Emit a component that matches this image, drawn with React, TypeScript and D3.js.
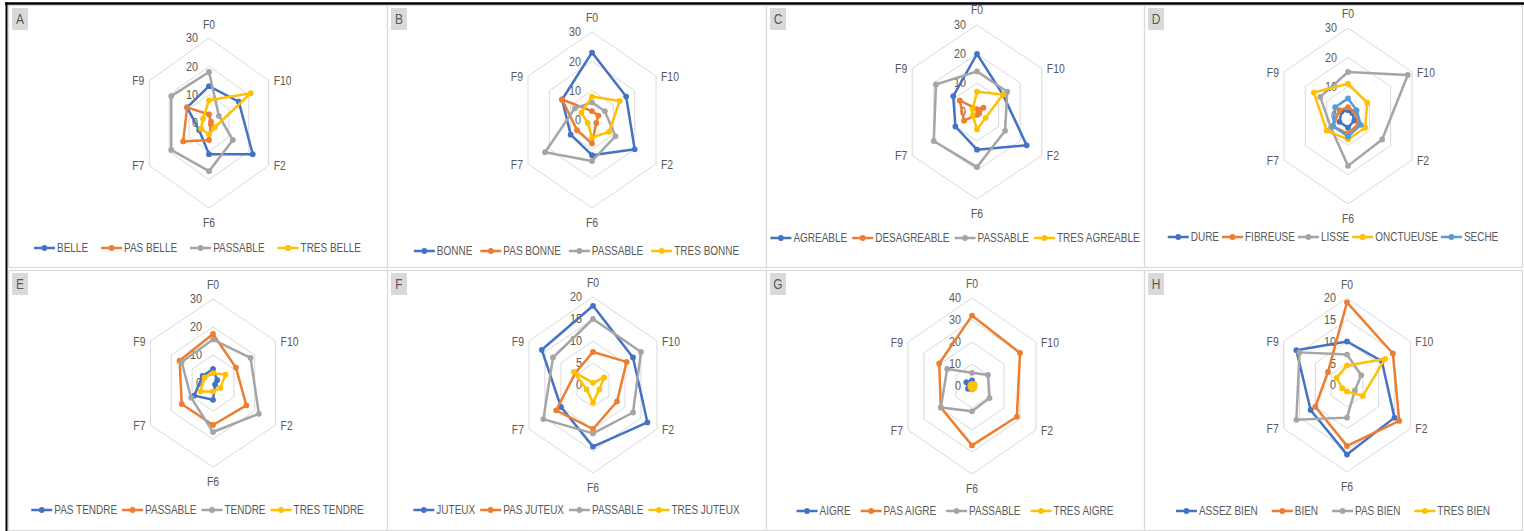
import React, { useEffect, useRef } from "react";
import * as d3 from "d3";

const AXES = ["F0", "F10", "F2", "F6", "F7", "F9"];

const COLORS4 = ["#4472C4", "#ED7D31", "#A5A5A5", "#FFC000"];
const COLORS5 = ["#4472C4", "#ED7D31", "#A5A5A5", "#FFC000", "#5B9BD5"];

// A
const A_NAMES = ["BELLE", "PAS BELLE", "PASSABLE", "TRES BELLE"];
const A_BELLE = [13, 15, 22, 11, 5, 11];
const A_PAS_BELLE = [3, 1, 1, 6, 13, 11];
const A_PASSABLE = [18, 5, 12, 17, 19, 19];
const A_TRES_BELLE = [8, 21, 3, 4, 4, 3];
const A_TICKS = [0, 10, 20, 30];

// B
const B_NAMES = ["BONNE", "PAS BONNE", "PASSABLE", "TRES BONNE"];
const B_BONNE = [23, 16, 20, 12, 10, 14];
const B_PAS_BONNE = [3, 3, 2, 8, 7, 14];
const B_PASSABLE = [6, 6, 11, 14, 22, 8];
const B_TRES_BONNE = [8, 13, 8, 6, 2, 5];
const B_TICKS = [0, 10, 20, 30];

// C
const C_NAMES = ["AGREABLE", "DESAGREABLE", "PASSABLE", "TRES AGREABLE"];
const C_AGREABLE = [20, 12, 23, 13, 10, 11];
const C_DESAGREABLE = [1, 3, 1, 1, 6, 8];
const C_PASSABLE = [14, 14, 13, 19, 20, 19];
const C_TRES_AGREABLE = [7, 12, 4, 6, 2, 2];
const C_TICKS = [0, 10, 20, 30];

// D
const D_NAMES = ["DURE", "FIBREUSE", "LISSE", "ONCTUEUSE", "SECHE"];
const D_DURE = [2, 2, 3, 4, 4, 3];
const D_FIBREUSE = [3, 3, 5, 6, 7, 4];
const D_LISSE = [15, 28, 16, 17, 8, 13];
const D_ONCTUEUSE = [11, 9, 8, 8, 10, 16];
const D_SECHE = [6, 4, 6, 7, 7, 6];
const D_TICKS = [0, 10, 20, 30];

// E
const E_NAMES = ["PAS TENDRE", "PASSABLE", "TENDRE", "TRES TENDRE"];
const E_PAS_TENDRE = [5, 2, 1, 6, 9, 5];
const E_PASSABLE = [17.5, 11, 16, 15, 15, 16];
const E_TENDRE = [15.5, 18, 22, 17.5, 10.5, 15];
const E_TRES_TENDRE = [3.5, 6, 3.5, 3, 6, 4];
const E_TICKS = [0, 10, 20, 30];

// F
const F_NAMES = ["JUTEUX", "PAS JUTEUX", "PASSABLE", "TRES JUTEUX"];
const F_JUTEUX = [18, 12.5, 17, 14, 10, 16];
const F_PAS_JUTEUX = [7.5, 10.5, 7.5, 10, 11.5, 5.5];
const F_PASSABLE = [15, 15, 12.5, 11, 15.5, 12.5];
const F_TRES_JUTEUX = [0.5, 3.5, 2, 4, 2, 6];
const F_TICKS = [0, 5, 10, 15, 20];

// G
const G_NAMES = ["AIGRE", "PAS AIGRE", "PASSABLE", "TRES AIGRE"];
const G_AIGRE = [2.5, 1.5, 1, 1.5, 2.5, 3.5];
const G_PAS_AIGRE = [32, 30, 28, 27, 19.5, 20.5];
const G_PASSABLE = [6, 10, 11, 11.5, 19.5, 15.5];
const G_TRES_AIGRE = [1, 1.5, 1.5, 1.5, 1, 1];
const G_TICKS = [0, 10, 20, 30, 40];

// H
const H_NAMES = ["ASSEZ BIEN", "BIEN", "PAS BIEN", "TRES BIEN"];
const H_ASSEZ_BIEN = [10, 11, 15, 16, 11.5, 16];
const H_BIEN = [19, 14.5, 16.5, 14, 10, 6];
const H_PAS_BIEN = [7, 4.5, 2.5, 7.5, 16, 15];
const H_TRES_BIEN = [4.5, 12, 5, 1.5, 1.5, 3.3];
const H_TICKS = [0, 5, 10, 15, 20];

const PANELS = [
  { letter: "A", x: 8, y: 5, w: 379, h: 262, cx: 209, cy: 123, R: 85, k: 0.81, f0: 14, legendY: 248, gap: 13,
    names: A_NAMES, colors: COLORS4, values: [A_BELLE, A_PAS_BELLE, A_PASSABLE, A_TRES_BELLE], ticks: A_TICKS },
  { letter: "B", x: 387, y: 5, w: 379, h: 262, cx: 592, cy: 120, R: 88, k: 0.84, f0: 15, legendY: 251, gap: 8,
    names: B_NAMES, colors: COLORS4, values: [B_BONNE, B_PAS_BONNE, B_PASSABLE, B_TRES_BONNE], ticks: B_TICKS },
  { letter: "C", x: 766, y: 5, w: 378, h: 262, cx: 977, cy: 112, R: 87, k: 0.86, f0: 16, legendY: 238, gap: 5,
    names: C_NAMES, colors: COLORS4, values: [C_AGREABLE, C_DESAGREABLE, C_PASSABLE, C_TRES_AGREABLE], ticks: C_TICKS },
  { letter: "D", x: 1144, y: 5, w: 378, h: 262, cx: 1348, cy: 116, R: 88, k: 0.84, f0: 15, legendY: 237, gap: 3,
    names: D_NAMES, colors: COLORS5, values: [D_DURE, D_FIBREUSE, D_LISSE, D_ONCTUEUSE, D_SECHE], ticks: D_TICKS },
  { letter: "E", x: 8, y: 270, w: 379, h: 260, cx: 213, cy: 383, R: 84, k: 0.86, f0: 15, legendY: 510, gap: 5,
    names: E_NAMES, colors: COLORS4, values: [E_PAS_TENDRE, E_PASSABLE, E_TENDRE, E_TRES_TENDRE], ticks: E_TICKS },
  { letter: "F", x: 387, y: 270, w: 379, h: 260, cx: 593, cy: 385, R: 88, k: 0.84, f0: 15, legendY: 510, gap: 5,
    names: F_NAMES, colors: COLORS4, values: [F_JUTEUX, F_PAS_JUTEUX, F_PASSABLE, F_TRES_JUTEUX], ticks: F_TICKS },
  { letter: "G", x: 766, y: 270, w: 378, h: 260, cx: 972, cy: 386, R: 88, k: 0.84, f0: 15, legendY: 511, gap: 10,
    names: G_NAMES, colors: COLORS4, values: [G_AIGRE, G_PAS_AIGRE, G_PASSABLE, G_TRES_AIGRE], ticks: G_TICKS },
  { letter: "H", x: 1144, y: 270, w: 378, h: 260, cx: 1347, cy: 385, R: 87, k: 0.84, f0: 14, legendY: 511, gap: 14,
    names: H_NAMES, colors: COLORS4, values: [H_ASSEZ_BIEN, H_BIEN, H_PAS_BIEN, H_TRES_BIEN], ticks: H_TICKS },
];

const FONT = "'Liberation Sans', Arial, sans-serif";
const TXT = "#595959";
const SX = 0.8; // horizontal text compression, as in the reference picture

function addText(g: any, x: number, y: number, str: string, size: number, anchor: string) {
  return g.append("text")
    .attr("transform", `translate(${x},${y}) scale(${SX},1)`)
    .attr("x", 0).attr("y", 0)
    .attr("text-anchor", anchor).attr("dominant-baseline", "central")
    .attr("font-family", FONT).attr("font-size", size).attr("fill", TXT)
    .text(str);
}

function drawPanel(svg: any, p: any) {
  const g = svg.append("g");
  g.append("rect")
    .attr("x", p.x + 0.5).attr("y", p.y + 0.5)
    .attr("width", p.w).attr("height", p.h)
    .attr("fill", "#fff").attr("stroke", "#d9d9d9").attr("stroke-width", 1.2);

  const max = p.ticks[p.ticks.length - 1];
  const ry = d3.scaleLinear().domain([0, max]).range([0, p.R]);
  const rx = d3.scaleLinear().domain([0, max]).range([0, p.R * p.k]);
  const n = AXES.length;
  const ang = (i: number) => (i * 2 * Math.PI) / n;
  const pt = (i: number, v: number): [number, number] => [
    p.cx + rx(v) * Math.sin(ang(i)),
    p.cy - ry(v) * Math.cos(ang(i)),
  ];
  const closed = d3.line().curve(d3.curveLinearClosed);

  // grid rings
  p.ticks.forEach((t: number) => {
    if (t <= 0) return;
    g.append("path")
      .attr("d", closed(AXES.map((_, i) => pt(i, t))))
      .attr("fill", "none").attr("stroke", "#d9d9d9").attr("stroke-width", 1);
  });

  // tick labels
  p.ticks.forEach((t: number) => {
    addText(g, p.cx - 11, p.cy - ry(t), String(t), 13.5, "end");
  });

  // axis labels
  AXES.forEach((a, i) => {
    const [vx, vy] = pt(i, max);
    let x = vx, y = vy, anchor = "middle";
    const s = Math.sin(ang(i)), c = Math.cos(ang(i));
    if (Math.abs(s) < 1e-6) {
      y = c > 0 ? vy - p.f0 : vy + 14;
    } else if (s > 0) {
      x = vx + 5; anchor = "start";
    } else {
      x = vx - 5; anchor = "end";
    }
    addText(g, x, y, a, 13, anchor);
  });

  // series
  p.values.forEach((vals: number[], si: number) => {
    const pts = vals.map((v, i) => pt(i, v));
    const col = p.colors[si];
    g.append("path")
      .attr("d", closed(pts))
      .attr("fill", "none").attr("stroke", col)
      .attr("stroke-width", 2.5).attr("stroke-linejoin", "round");
    pts.forEach(([x, y]) => {
      g.append("circle").attr("cx", x).attr("cy", y).attr("r", 2.9).attr("fill", col);
    });
  });

  // legend
  const lg = g.append("g");
  let cur = 0;
  p.names.forEach((name: string, si: number) => {
    const col = p.colors[si];
    const it = lg.append("g");
    it.append("line").attr("x1", cur).attr("x2", cur + 21).attr("y1", 0).attr("y2", 0)
      .attr("stroke", col).attr("stroke-width", 2.5);
    it.append("circle").attr("cx", cur + 10.5).attr("cy", 0).attr("r", 2.9).attr("fill", col);
    const t = addText(it, cur + 23, 0, name, 12.5, "start");
    const w = (t.node() as any).getComputedTextLength() * SX;
    cur += 23 + w + p.gap;
  });
  const total = cur - p.gap;
  const pc = p.x + p.w / 2;
  lg.attr("transform", `translate(${pc - total / 2},${p.legendY})`);

  // letter box
  g.append("rect").attr("x", p.x + 4).attr("y", p.y + 3).attr("width", 16).attr("height", 22)
    .attr("fill", "#d9d9d9");
  addText(g, p.x + 12, p.y + 14.5, p.letter, 15, "middle");
}

export default function App() {
  const ref = useRef<SVGSVGElement | null>(null);
  useEffect(() => {
    const svg = d3.select(ref.current);
    svg.selectAll("*").remove();
    svg.append("rect").attr("width", 1524).attr("height", 531).attr("fill", "#fff");
    PANELS.forEach((p) => drawPanel(svg, p));
    svg.append("line").attr("x1", 5).attr("x2", 1524).attr("y1", 3.5).attr("y2", 3.5)
      .attr("stroke", "#000").attr("stroke-width", 2.5);
    svg.append("line").attr("x1", 6.5).attr("x2", 6.5).attr("y1", 2.5).attr("y2", 531)
      .attr("stroke", "#000").attr("stroke-width", 2);
  }, []);
  return (
    <svg
      ref={ref}
      width={1524}
      height={531}
      style={{ position: "absolute", left: 0, top: 0, display: "block" }}
    />
  );
}
